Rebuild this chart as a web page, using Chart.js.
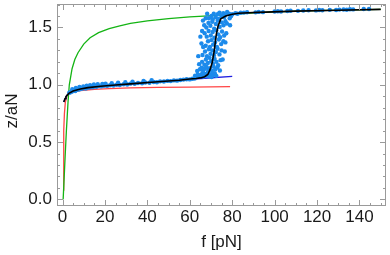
<!DOCTYPE html>
<html>
<head>
<meta charset="utf-8">
<script src="https://cdn.jsdelivr.net/npm/chart.js@4.4.0/dist/chart.umd.min.js"></script>
<style>
  html, body { margin: 0; padding: 0; background: #fff; }
  #wrap { width: 390px; height: 255px; }
</style>
</head>
<body>
<div id="wrap"><canvas id="myChart" width="390" height="255"></canvas></div>
<script>
// tick labels
var xTicks = [0, 20, 40, 60, 80, 100, 120, 140];
var yTicks = [0.0, 0.5, 1.0, 1.5];

// green curve (f, z)
var greenF = [0.3, 0.8, 1.3, 1.8, 2.2, 2.6, 3.2, 4.5, 5.8, 7.3, 10, 13, 17, 22, 27, 32, 40, 50, 60, 73, 85, 92, 110, 130, 150];
var greenZ = [0.0, 0.2, 0.4, 0.59, 0.72, 0.85, 1.0, 1.14, 1.22, 1.28, 1.355, 1.41, 1.455, 1.49, 1.515, 1.535, 1.557, 1.578, 1.592, 1.605, 1.621, 1.63, 1.642, 1.651, 1.658];

// red curve
var redF = [0.4, 0.5, 0.65, 0.9, 1.35, 2.15, 3, 5, 8.4, 15, 22, 32, 45, 60, 79];
var redZ = [0.08, 0.4, 0.6, 0.75, 0.85, 0.905, 0.92, 0.935, 0.95, 0.96, 0.967, 0.973, 0.977, 0.98, 0.983];

// blue curve
var blueF = [0.6, 1.2, 1.6, 2.2, 3, 5, 8.4, 12, 18, 25, 32, 45, 55, 67, 80];
var blueZ = [0.85, 0.88, 0.895, 0.91, 0.925, 0.945, 0.963, 0.975, 0.987, 0.998, 1.008, 1.027, 1.04, 1.057, 1.074];

// black fit
var fitF = [0.6, 1.2, 1.6, 2.2, 3, 5, 8.4, 12, 18, 25, 32, 45, 55, 60, 63, 65, 67, 68.5, 69.5, 70.5, 71.3, 71.9, 72.5, 73.3, 74.6, 76.9, 80, 83, 92, 110, 130, 150];
var fitZ = [0.85, 0.88, 0.895, 0.91, 0.925, 0.945, 0.963, 0.975, 0.987, 0.998, 1.008, 1.027, 1.04, 1.05, 1.055, 1.06, 1.07, 1.09, 1.13, 1.19, 1.27, 1.35, 1.44, 1.51, 1.575, 1.60, 1.615, 1.624, 1.632, 1.643, 1.651, 1.658];

// measured points
var dotF = [
  3.2, 3.8, 4.3, 4.9, 5.5, 6.0, 6.6, 7.1, 7.8, 8.3, 9.0, 9.6, 10.3, 11.0, 11.8, 12.5, 13.4, 14.2, 15.0, 16.1,
  17.0, 18.2, 19.5, 21.0, 22.4, 24.0, 25.5, 27.0, 28.8, 30.5, 32.0, 34.0, 35.6, 37.5, 39.0, 41.0, 43.0, 44.5, 46.0, 47.8,
  49.5, 51.0, 52.5, 54.0, 55.5, 57.0, 58.5, 60.0, 61.2, 62.3,
  4.6, 6.3, 8.0, 9.8, 11.4, 13.0, 14.8, 16.6, 18.8, 20.3, 23.2, 26.2, 29.6, 33.0, 38.2, 42.0,
  63.0, 63.8, 64.5, 65.2, 65.9, 66.5, 67.1, 67.8, 68.4, 69.0, 69.6, 70.3, 71.0, 71.8, 72.5,
  63.5, 64.8, 65.6, 66.3, 67.0, 67.9, 68.7, 69.5, 70.4, 71.2, 72.0, 73.0, 74.2,
  64.4, 65.8, 66.9, 67.6, 68.5, 69.3, 70.1, 70.9, 71.7, 72.6, 73.4, 74.5,
  66.0, 67.2, 68.1, 69.0, 69.8, 70.6, 71.4, 72.3, 73.1, 74.0, 75.0,
  65.5, 67.5, 68.6, 69.5, 70.2, 71.0, 71.9, 72.8, 73.7, 74.8, 75.8,
  67.0, 68.0, 68.9, 69.9, 70.8, 71.6, 72.5, 73.4, 74.3, 75.2, 76.2,
  67.8, 68.8, 69.7, 70.6, 71.5, 72.3, 73.2, 74.1, 75.0, 75.9, 76.8, 77.5,
  69.0, 70.2, 71.3, 72.2, 73.1, 74.0, 74.9, 75.8, 76.7, 77.6, 78.5, 70.8, 73.6, 76.2,
  65.0, 65.8, 66.3, 66.8, 76.8, 77.2, 76.5, 62.5, 64.0, 75.5, 78.8, 79.5, 67.5, 68.2, 66.2,
  79, 80, 81.5, 82.5, 84, 85.5, 87, 91, 92.5, 94.5, 100, 101.5, 103, 106, 107.5, 111, 113.5, 116, 119.5, 121,
  122.5, 126, 129, 130.5, 132.5, 134, 135.5, 137, 142, 144.5
];
var dotZ = [
  0.93, 0.935, 0.94, 0.945, 0.95, 0.945, 0.955, 0.96, 0.958, 0.968, 0.965, 0.97, 0.972, 0.968, 0.978, 0.975, 0.982, 0.978, 0.985, 0.982,
  0.99, 0.986, 0.992, 0.99, 0.996, 0.994, 1.0, 0.998, 1.004, 1.003, 1.01, 1.008, 1.015, 1.013, 1.02, 1.018, 1.024, 1.022, 1.03, 1.028,
  1.034, 1.032, 1.038, 1.036, 1.042, 1.045, 1.048, 1.047, 1.052, 1.055,
  0.962, 0.972, 0.98, 0.985, 0.992, 0.996, 1.002, 1.004, 1.008, 1.01, 1.014, 1.018, 1.022, 1.026, 1.034, 1.04,
  1.075, 1.09, 1.07, 1.085, 1.1, 1.072, 1.095, 1.08, 1.105, 1.075, 1.09, 1.068, 1.085, 1.1, 1.078,
  1.12, 1.135, 1.15, 1.125, 1.14, 1.155, 1.13, 1.145, 1.12, 1.16, 1.135, 1.15, 1.125,
  1.18, 1.2, 1.175, 1.22, 1.19, 1.235, 1.205, 1.185, 1.225, 1.2, 1.17, 1.215,
  1.26, 1.29, 1.25, 1.31, 1.27, 1.3, 1.255, 1.285, 1.315, 1.265, 1.3,
  1.36, 1.34, 1.38, 1.33, 1.39, 1.35, 1.37, 1.33, 1.395, 1.355, 1.38,
  1.45, 1.42, 1.47, 1.43, 1.46, 1.41, 1.475, 1.44, 1.415, 1.465, 1.43,
  1.5, 1.54, 1.515, 1.55, 1.49, 1.53, 1.56, 1.505, 1.545, 1.52, 1.555, 1.535,
  1.58, 1.6, 1.62, 1.59, 1.615, 1.63, 1.6, 1.625, 1.61, 1.635, 1.62, 1.57, 1.575, 1.59,
  1.42, 1.47, 1.33, 1.52, 1.37, 1.45, 1.29, 1.08, 1.25, 1.22, 1.58, 1.6, 1.58, 1.62, 1.56,
  1.52, 1.615, 1.625, 1.62, 1.628, 1.63, 1.633, 1.632, 1.636, 1.634, 1.64, 1.642, 1.639, 1.644, 1.646, 1.645, 1.648, 1.65, 1.649, 1.652,
  1.65, 1.654, 1.653, 1.656, 1.657, 1.655, 1.659, 1.658, 1.661, 1.662
];

function pts(xs, ys) {
    var out = [];
    for (var i = 0; i < xs.length; i++) {
        out.push({x: xs[i], y: ys[i]});
    }
    return out;
}

function lineSet(xs, ys, color, width, order) {
    return {
        data: pts(xs, ys),
        showLine: true,
        borderColor: color,
        borderWidth: width,
        pointRadius: 0,
        tension: 0,
        order: order
    };
}

var FONT = "'Liberation Sans', Arial, sans-serif";
var frameColor = '#9a9a9a';

// frame with inward ticks on all four sides, plus y title
var framePlugin = {
    id: 'frame',
    afterDatasetsDraw: function(chart) {
        var c = chart.ctx, a = chart.chartArea;
        var xs = chart.scales.x, ys = chart.scales.y;
        c.save();
        c.strokeStyle = frameColor;
        c.lineWidth = 1;
        c.strokeRect(Math.round(a.left) + 0.5, Math.round(a.top) + 0.5,
                     Math.round(a.right - a.left) - 1, Math.round(a.bottom - a.top) - 1);
        c.beginPath();
        var v, p, len;
        for (v = Math.ceil(xs.min / 5) * 5; v <= xs.max; v += 5) {
            p = Math.round(xs.getPixelForValue(v)) + 0.5;
            len = (v % 20 === 0) ? 6 : 3;
            c.moveTo(p, a.bottom); c.lineTo(p, a.bottom - len);
            c.moveTo(p, a.top); c.lineTo(p, a.top + len);
        }
        for (var k = Math.ceil(ys.min * 10); k / 10 <= ys.max; k++) {
            p = Math.round(ys.getPixelForValue(k / 10)) + 0.5;
            len = (k % 5 === 0) ? 6 : 3;
            c.moveTo(a.left, p); c.lineTo(a.left + len, p);
            c.moveTo(a.right, p); c.lineTo(a.right - len, p);
        }
        c.stroke();
        // y title
        c.fillStyle = '#1a1a1a';
        c.font = '17px ' + FONT;
        c.translate(12, 111);
        c.rotate(-Math.PI / 2);
        c.textAlign = 'center';
        c.textBaseline = 'middle';
        c.fillText('z/aN', 0, 0);
        c.restore();
    }
};

var ctx = document.getElementById('myChart').getContext('2d');
var chart = new Chart(ctx, {
    type: 'scatter',
    data: {
        datasets: [
            lineSet(fitF, fitZ, '#000000', 1.6, 0),
            {
                data: pts(dotF, dotZ),
                backgroundColor: 'rgb(28,138,235)',
                borderWidth: 0,
                pointRadius: 2.2,
                order: 1
            },
            lineSet(greenF, greenZ, 'rgb(20,180,20)', 1.3, 2),
            lineSet(blueF, blueZ, 'rgb(30,30,225)', 1.3, 3),
            lineSet(redF, redZ, 'rgb(255,70,70)', 1.3, 4)
        ]
    },
    options: {
        responsive: false,
        animation: false,
        layout: { padding: { top: 1, right: 1, left: 0, bottom: 0 } },
        plugins: {
            legend: { display: false },
            tooltip: { enabled: false }
        },
        scales: {
            x: {
                type: 'linear',
                min: -2.6,
                max: 152.5,
                border: { display: false },
                grid: { display: false, drawTicks: false },
                afterBuildTicks: function(scale) {
                    scale.ticks = xTicks.map(function(v) { return {value: v}; });
                },
                afterFit: function(scale) {
                    scale.height = 49;
                    scale.paddingLeft = 0;
                    scale.paddingRight = 0;
                },
                ticks: {
                    color: '#1a1a1a',
                    font: { family: FONT, size: 17 },
                    padding: 1,
                    maxRotation: 0
                },
                title: {
                    display: true,
                    text: 'f [pN]',
                    color: '#1a1a1a',
                    font: { family: FONT, size: 17 },
                    padding: { top: 0, bottom: 2 }
                }
            },
            y: {
                type: 'linear',
                min: -0.058,
                max: 1.705,
                border: { display: false },
                grid: { display: false, drawTicks: false },
                afterBuildTicks: function(scale) {
                    scale.ticks = yTicks.map(function(v) { return {value: v}; });
                },
                afterFit: function(scale) {
                    scale.width = 57;
                    scale.paddingTop = 0;
                    scale.paddingBottom = 0;
                },
                ticks: {
                    color: '#1a1a1a',
                    font: { family: FONT, size: 17 },
                    padding: 5,
                    callback: function(v) { return Number(v).toFixed(1); }
                }
            }
        }
    },
    plugins: [framePlugin]
});
</script>
</body>
</html>
